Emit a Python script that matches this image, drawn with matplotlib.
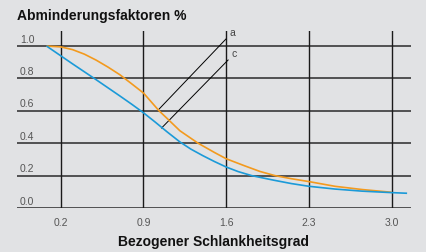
import matplotlib
matplotlib.use("Agg")
import matplotlib.pyplot as plt

plt.rcParams['font.family'] = ['Liberation Sans', 'DejaVu Sans']

# Data
curve_a_x = [0.08, 0.20, 0.30, 0.40, 0.50, 0.60, 0.70, 0.784, 0.90, 1.032, 1.10, 1.208,
             1.362, 1.50, 1.60, 1.75, 1.884, 2.012, 2.15, 2.30, 2.52, 2.75, 3.00]
curve_a_y = [1.000, 0.995, 0.978, 0.950, 0.913, 0.870, 0.823, 0.776, 0.710, 0.600, 0.553, 0.477,
             0.400, 0.343, 0.304, 0.262, 0.226, 0.200, 0.181, 0.163, 0.134, 0.114, 0.097]
curve_c_x = [0.08, 0.20, 0.30, 0.40, 0.50, 0.60, 0.70, 0.80, 0.90, 1.00, 1.10,
             1.208, 1.30, 1.40, 1.50, 1.60, 1.70, 1.815, 2.00, 2.15, 2.30, 2.52, 2.75, 3.00, 3.13]
curve_c_y = [1.000, 0.940, 0.890, 0.841, 0.792, 0.742, 0.692, 0.641, 0.588, 0.530, 0.470,
             0.408, 0.364, 0.324, 0.287, 0.253, 0.225, 0.200, 0.172, 0.151, 0.134, 0.117, 0.104, 0.095, 0.091]
x_ticks = [0.2, 0.9, 1.6, 2.3, 3.0]
x_tick_labels = ['0.2', '0.9', '1.6', '2.3', '3.0']
y_ticks = [0.0, 0.2, 0.4, 0.6, 0.8, 1.0]
y_tick_labels = ['0.0', '0.2', '0.4', '0.6', '0.8', '1.0']
label_a = 'a'
label_c = 'c'
leader_a = ([1.032, 1.597], [0.611, 1.043])
leader_c = ([1.053, 1.616], [0.494, 0.914])
title = 'Abminderungsfaktoren %'
xlabel = 'Bezogener Schlankheitsgrad'

bg = '#e1e2e4'
fig = plt.figure(figsize=(4.27, 2.53), dpi=100, facecolor=bg)
ax = fig.add_axes([17/427, 1 - 209/253, 394/427, 177/253], facecolor=bg)
ax.set_xlim(-0.17, 3.163)
ax.set_ylim(0, 1.093)
for s in ax.spines.values():
    s.set_visible(False)

for yv in y_ticks:
    ax.axhline(yv, color='#2a2a2a', lw=1.1, zorder=1)
for xv in x_ticks:
    ax.axvline(xv, color='#1a1a1a', lw=1.0, zorder=1)

ax.plot(curve_a_x, curve_a_y, color='#f39a1e', lw=1.2, zorder=3, solid_capstyle='butt')
ax.plot(curve_c_x, curve_c_y, color='#1b9ad8', lw=1.2, zorder=3, solid_capstyle='butt')

ax.plot(*leader_a, color='black', lw=0.7, zorder=2)
ax.plot(*leader_c, color='black', lw=0.7, zorder=2)
ax.text(leader_a[0][1] + 0.03, leader_a[1][1] + 0.01, label_a, fontsize=7.5, color='#444444',
        ha='left', va='bottom')
ax.text(leader_c[0][1] + 0.03, leader_c[1][1] + 0.01, label_c, fontsize=7.5, color='#444444',
        ha='left', va='bottom')

ax.set_xticks(x_ticks)
ax.set_xticklabels(x_tick_labels, fontsize=7.5, color='#555555')
ax.set_yticks([])
ax.tick_params(axis='x', length=0, pad=6.5)

for yv, lab in zip(y_ticks, y_tick_labels):
    ax.text(-0.145, yv + 0.015, lab, fontsize=7.5, color='#555555', ha='left', va='bottom')

fig.text(17/427, 1 - 16/253, title, fontsize=10, fontweight='bold', color='#111111',
         ha='left', va='center')
fig.text(214/427, 1 - 242/253, xlabel, fontsize=10, fontweight='bold', color='#111111',
         ha='center', va='center')

fig.savefig('out.png', dpi=100, facecolor=bg)
